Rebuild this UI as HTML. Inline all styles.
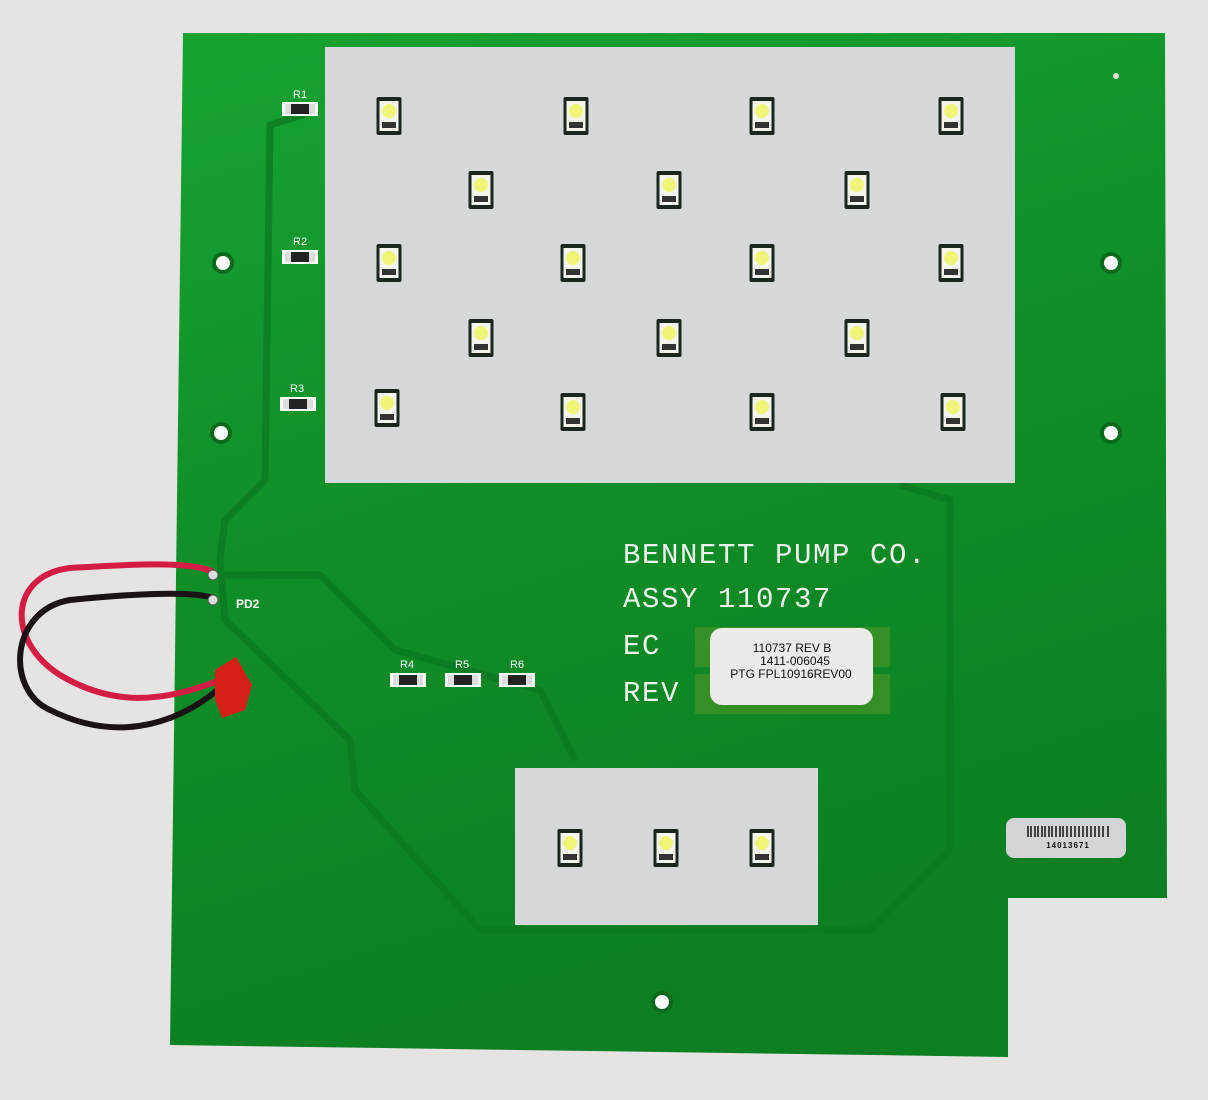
<!DOCTYPE html>
<html><head><meta charset="utf-8"><style>
html,body{margin:0;padding:0;background:#e6e4e3;}
svg{display:block}
</style></head><body>
<svg width="1208" height="1100" viewBox="0 0 1208 1100" xmlns="http://www.w3.org/2000/svg">
<defs>
<linearGradient id="g" x1="0" y1="0" x2="0.3" y2="1">
<stop offset="0" stop-color="#17a332"/><stop offset="0.5" stop-color="#0f8e28"/><stop offset="1" stop-color="#0c7f22"/>
</linearGradient>
<g id="led">
<rect x="-12.5" y="-19" width="25" height="38" rx="2" fill="#1a261e"/>
<rect x="-9.5" y="-15" width="19" height="30" fill="#f4f4ee"/>
<circle cx="0" cy="-5" r="7" fill="#f0f57a"/>
<rect x="-7" y="6" width="14" height="6" fill="#333"/>
</g>
<g id="res">
<rect x="-18" y="-7" width="36" height="14" fill="#fff"/>
<rect x="-15" y="-5" width="30" height="10" fill="#222"/>
<rect x="-15" y="-5" width="6" height="10" fill="#ddd"/>
<rect x="9" y="-5" width="6" height="10" fill="#ddd"/>
</g>
</defs>
<rect width="1208" height="1100" fill="#e6e4e3"/>
<polygon points="183,33 1165,33 1167,898 1008,898 1008,1057 170,1045" fill="url(#g)"/>
<g fill="none" stroke="#0b7a20" stroke-width="7" opacity="0.8">
<path d="M318,110 L270,125 L265,480 L225,520 L220,560 L225,620 L350,740 L355,790 L480,930 L870,930 L950,850 L950,500 L900,485"/>
<path d="M220,575 L320,575 L395,650 L540,690 L575,760"/>
</g>
<g fill="#fff" stroke="#0a6a1c" stroke-width="4">
<circle cx="223" cy="263" r="9"/><circle cx="221" cy="433" r="9"/>
<circle cx="1111" cy="263" r="9"/><circle cx="1111" cy="433" r="9"/>
<circle cx="662" cy="1002" r="9"/>
</g>
<circle cx="1116" cy="76" r="3" fill="#ddd"/>
<rect x="325" y="47" width="690" height="436" fill="#d6d9da"/>
<rect x="515" y="768" width="303" height="157" fill="#d6d9da"/>
<g>
<use href="#led" x="389" y="116"/><use href="#led" x="576" y="116"/><use href="#led" x="762" y="116"/><use href="#led" x="951" y="116"/>
<use href="#led" x="481" y="190"/><use href="#led" x="669" y="190"/><use href="#led" x="857" y="190"/>
<use href="#led" x="389" y="263"/><use href="#led" x="573" y="263"/><use href="#led" x="762" y="263"/><use href="#led" x="951" y="263"/>
<use href="#led" x="481" y="338"/><use href="#led" x="669" y="338"/><use href="#led" x="857" y="338"/>
<use href="#led" x="387" y="408"/><use href="#led" x="573" y="412"/><use href="#led" x="762" y="412"/><use href="#led" x="953" y="412"/>
<use href="#led" x="570" y="848"/><use href="#led" x="666" y="848"/><use href="#led" x="762" y="848"/>
</g>
<use href="#res" x="300" y="109"/><use href="#res" x="300" y="257"/><use href="#res" x="298" y="404"/>
<use href="#res" x="408" y="680"/><use href="#res" x="463" y="680"/><use href="#res" x="517" y="680"/>
<g font-family="Liberation Sans, sans-serif" font-size="11" fill="#fff">
<text x="293" y="98">R1</text><text x="293" y="245">R2</text><text x="290" y="392">R3</text>
<text x="400" y="668">R4</text><text x="455" y="668">R5</text><text x="510" y="668">R6</text>
<text x="236" y="608" font-weight="bold" font-size="12">PD2</text>
</g>
<g font-family="Liberation Mono, monospace" font-size="29" fill="#f0f4ee" letter-spacing="1.6">
<text x="623" y="563">BENNETT PUMP CO.</text>
<text x="623" y="607">ASSY 110737</text>
<text x="623" y="654">EC</text>
<text x="623" y="701">REV</text>
</g>
<rect x="695" y="627" width="195" height="40" fill="#4f9628" opacity="0.6"/>
<rect x="695" y="674" width="195" height="40" fill="#4f9628" opacity="0.6"/>
<rect x="710" y="628" width="163" height="77" rx="12" fill="#ecebe8"/>
<g font-family="Liberation Sans, sans-serif" font-size="12" fill="#111" text-anchor="middle">
<text x="792" y="652">110737 REV B</text><text x="795" y="665">1411-006045</text><text x="791" y="678">PTG FPL10916REV00</text>
</g>
<rect x="1006" y="818" width="120" height="40" rx="8" fill="#d3d4d6"/>
<g stroke="#111" stroke-width="1.5">
<path d="M1028,826v11M1031,826v11M1035,826v11M1038,826v11M1042,826v11M1045,826v11M1049,826v11M1052,826v11M1056,826v11M1060,826v11M1063,826v11M1067,826v11M1071,826v11M1075,826v11M1079,826v11M1083,826v11M1087,826v11M1091,826v11M1095,826v11M1099,826v11M1103,826v11M1108,826v11"/>
</g>
<text x="1068" y="848" font-family="Liberation Sans, sans-serif" font-size="8" font-weight="bold" text-anchor="middle" letter-spacing="1" fill="#111">14013671</text>
<g fill="none" stroke-linecap="round">
<path d="M213,572 C190,560 120,565 70,568 C10,575 5,640 60,675 C110,705 160,705 225,678" stroke="#d41c45" stroke-width="6"/>
<path d="M213,598 C190,590 120,595 70,600 C10,610 5,690 50,710 C110,740 170,730 220,688" stroke="#1b1216" stroke-width="6"/>
</g>
<circle cx="213" cy="575" r="5" fill="#ddd" stroke="#555"/>
<circle cx="213" cy="600" r="5" fill="#ddd" stroke="#555"/>
<polygon points="215,670 236,657 252,685 245,710 222,718 215,700" fill="#d5201a"/>
</svg>
</body></html>
